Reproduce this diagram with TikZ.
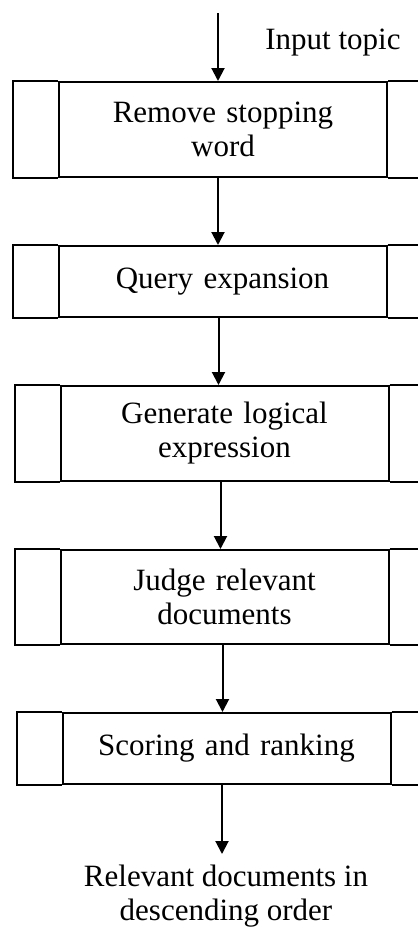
\documentclass[tikz,border=0pt]{standalone}
\usepackage{fontspec}
\setmainfont{Liberation Serif}
\usetikzlibrary{arrows.meta}
\begin{document}
\begin{tikzpicture}[x=1pt,y=-1pt,
  proc/.style={draw,line width=2pt,inner sep=0pt,minimum width=328pt,text width=310pt,align=center,
    font=\fontsize{31pt}{34pt}\selectfont},
  lbl/.style={inner sep=0pt,align=center,font=\fontsize{31pt}{34pt}\selectfont},
  arr/.style={line width=2pt,-{Triangle[length=13pt,width=13pt]}},
  side/.style={draw,line width=2pt}]
\useasboundingbox (0,0) rectangle (418,930);
\clip (0,0) rectangle (418,930);
\node[proc,minimum height=95pt] (b1) at (223,129.5) {Remove stopping\\word};
\node[proc,minimum height=71pt] (b2) at (222.5,281.5) {Query expansion};
\node[proc,minimum height=95pt] (b3) at (224.5,433.5) {Generate logical\\expression};
\node[proc,minimum height=94pt] (b4) at (224.5,597) {Judge relevant\\documents};
\node[proc,minimum height=71pt] (b5) at (226.5,748.5) {Scoring and ranking};
\foreach \b in {b1,b2,b3,b4,b5}{
  \draw[side] (\b.north west) -- ++(-45,0) |- (\b.south west);
  \draw[side] (\b.north east) -- ++(45,0) |- (\b.south east);
}
\node[lbl] (in) at (333,43) {Input topic};
\coordinate (start) at (218,13);
\node[lbl] (out) at (226,896) {Relevant documents in\\descending order};
\draw[arr] (start) -- (start |- b1.north);
\draw[arr] ([xshift=-5pt]b1.south) -- ([xshift=-5pt]b1.south |- b2.north);
\draw[arr] ([xshift=-4pt]b2.south) -- ([xshift=-4pt]b2.south |- b3.north);
\draw[arr] ([xshift=-4pt]b3.south) -- ([xshift=-4pt]b3.south |- b4.north);
\draw[arr] ([xshift=-2pt]b4.south) -- ([xshift=-2pt]b4.south |- b5.north);
\draw[arr] ([xshift=-4.5pt]b5.south) -- ++(0,69);
\end{tikzpicture}
\end{document}
